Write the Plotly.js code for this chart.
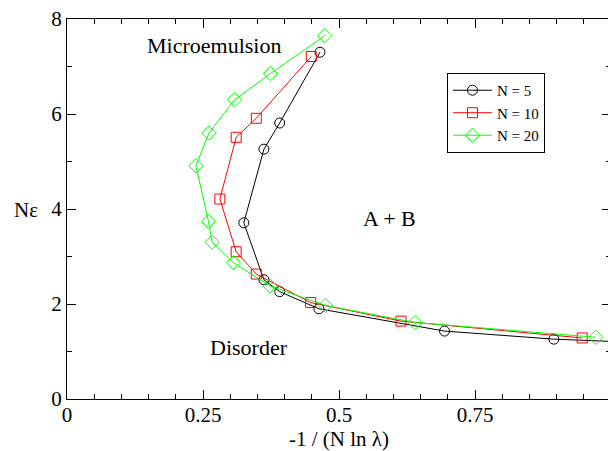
<!DOCTYPE html>
<html>
<head>
<meta charset="utf-8">
<script src="https://cdn.plot.ly/plotly-3.0.1.min.js"></script>
<style>
html,body{margin:0;padding:0;overflow:hidden;background:#fff;}
#chart{width:620px;height:451px;}
</style>
</head>
<body>
<div id="chart"></div>
<script>
// N = 5
var x5 = [0.465, 0.391, 0.362, 0.325, 0.362, 0.391, 0.463, 0.694, 0.895, 1.05];
var y5 = [7.30, 5.81, 5.26, 3.71, 2.51, 2.26, 1.90, 1.43, 1.26, 1.19];
// N = 10
var x10 = [0.449, 0.348, 0.311, 0.281, 0.311, 0.348, 0.448, 0.614, 0.947];
var y10 = [7.21, 5.91, 5.51, 4.21, 3.10, 2.63, 2.03, 1.64, 1.285];
// N = 20
var x20 = [0.474, 0.374, 0.308, 0.261, 0.237, 0.260, 0.267, 0.306, 0.373, 0.475, 0.640, 0.972];
var y20 = [7.65, 6.85, 6.30, 5.60, 4.91, 3.74, 3.30, 2.87, 2.38, 1.97, 1.61, 1.30];

var names = ["N = 5", "N = 10", "N = 20"];
var colors = ["#000000", "#ff0000", "#00ff00"];
var symbols = ["circle-open", "square-open", "diamond-open"];
var sizes = [10, 10, 11];

var xTickVals = [0, 0.25, 0.5, 0.75, 1];
var xTickText = ["0", "0.25", "0.5", "0.75", ""];
var yTickVals = [0, 2, 4, 6, 8];
var yTickText = ["0", "2", "4", "6", "8"];

var regionText = ["Microemulsion", "A + B", "Disorder"];
var regionX = [0.2697, 0.593, 0.334];
var regionY = [7.44, 3.81, 1.075];

var xTitle = "-1 / (N ln λ)";
var yTitle = "Nε";

var SERIF = "Liberation Serif";
function f(sz){ return {family: SERIF, color: "#000", size: sz}; }

var xs = [x5, x10, x20], ys = [y5, y10, y20];
var traces = [];
for (var i = 0; i < 3; i++) {
  traces.push({
    x: xs[i], y: ys[i], name: names[i], type: "scatter", mode: "lines+markers",
    line: {color: colors[i], width: 1},
    marker: {symbol: symbols[i], size: sizes[i], color: colors[i], line: {color: colors[i], width: 1}}
  });
}

var annotations = [];
for (var j = 0; j < regionText.length; j++) {
  annotations.push({x: regionX[j], y: regionY[j], xref: "x", yref: "y", text: regionText[j],
    showarrow: false, font: f(22)});
}
// axis titles placed as in the reference (y title horizontal)
annotations.push({x: -0.0754, y: 0.497, xref: "paper", yref: "paper", text: yTitle,
  showarrow: false, font: f(21), xanchor: "center", yanchor: "middle"});
annotations.push({x: 0.5, y: -0.106, xref: "paper", yref: "paper", text: xTitle,
  showarrow: false, font: f(21), xanchor: "center", yanchor: "middle"});

var layout = {
  width: 620, height: 451,
  font: f(15),
  margin: {l: 67, r: 9, t: 19, b: 52},
  paper_bgcolor: "#fff", plot_bgcolor: "#fff",
  showlegend: true,
  legend: {x: 0.6985, y: 0.858, xanchor: "left", yanchor: "top", bordercolor: "#000", borderwidth: 1,
    bgcolor: "#fff", font: f(15), itemwidth: 39},
  xaxis: {
    showgrid: false, zeroline: false, showline: true, linecolor: "#000", linewidth: 1,
    mirror: "allticks", ticks: "inside", ticklen: 9, tickwidth: 1, tickcolor: "#000",
    tickfont: {family: SERIF, size: 21, color: "#000"}, ticklabelstandoff: -3,
    range: [0, 1], tickmode: "array", tickvals: xTickVals, ticktext: xTickText,
    minor: {dtick: 0.05, ticks: "inside", ticklen: 5, tickcolor: "#000", showgrid: false}
  },
  yaxis: {
    showgrid: false, zeroline: false, showline: true, linecolor: "#000", linewidth: 1,
    mirror: "allticks", ticks: "inside", ticklen: 9, tickwidth: 1, tickcolor: "#000",
    tickfont: {family: SERIF, size: 21, color: "#000"},
    range: [0, 8], tickmode: "array", tickvals: yTickVals, ticktext: yTickText,
    minor: {dtick: 1, ticks: "inside", ticklen: 5, tickcolor: "#000", showgrid: false}
  },
  annotations: annotations
};

Plotly.newPlot("chart", traces, layout, {staticPlot: true});
</script>
</body>
</html>
